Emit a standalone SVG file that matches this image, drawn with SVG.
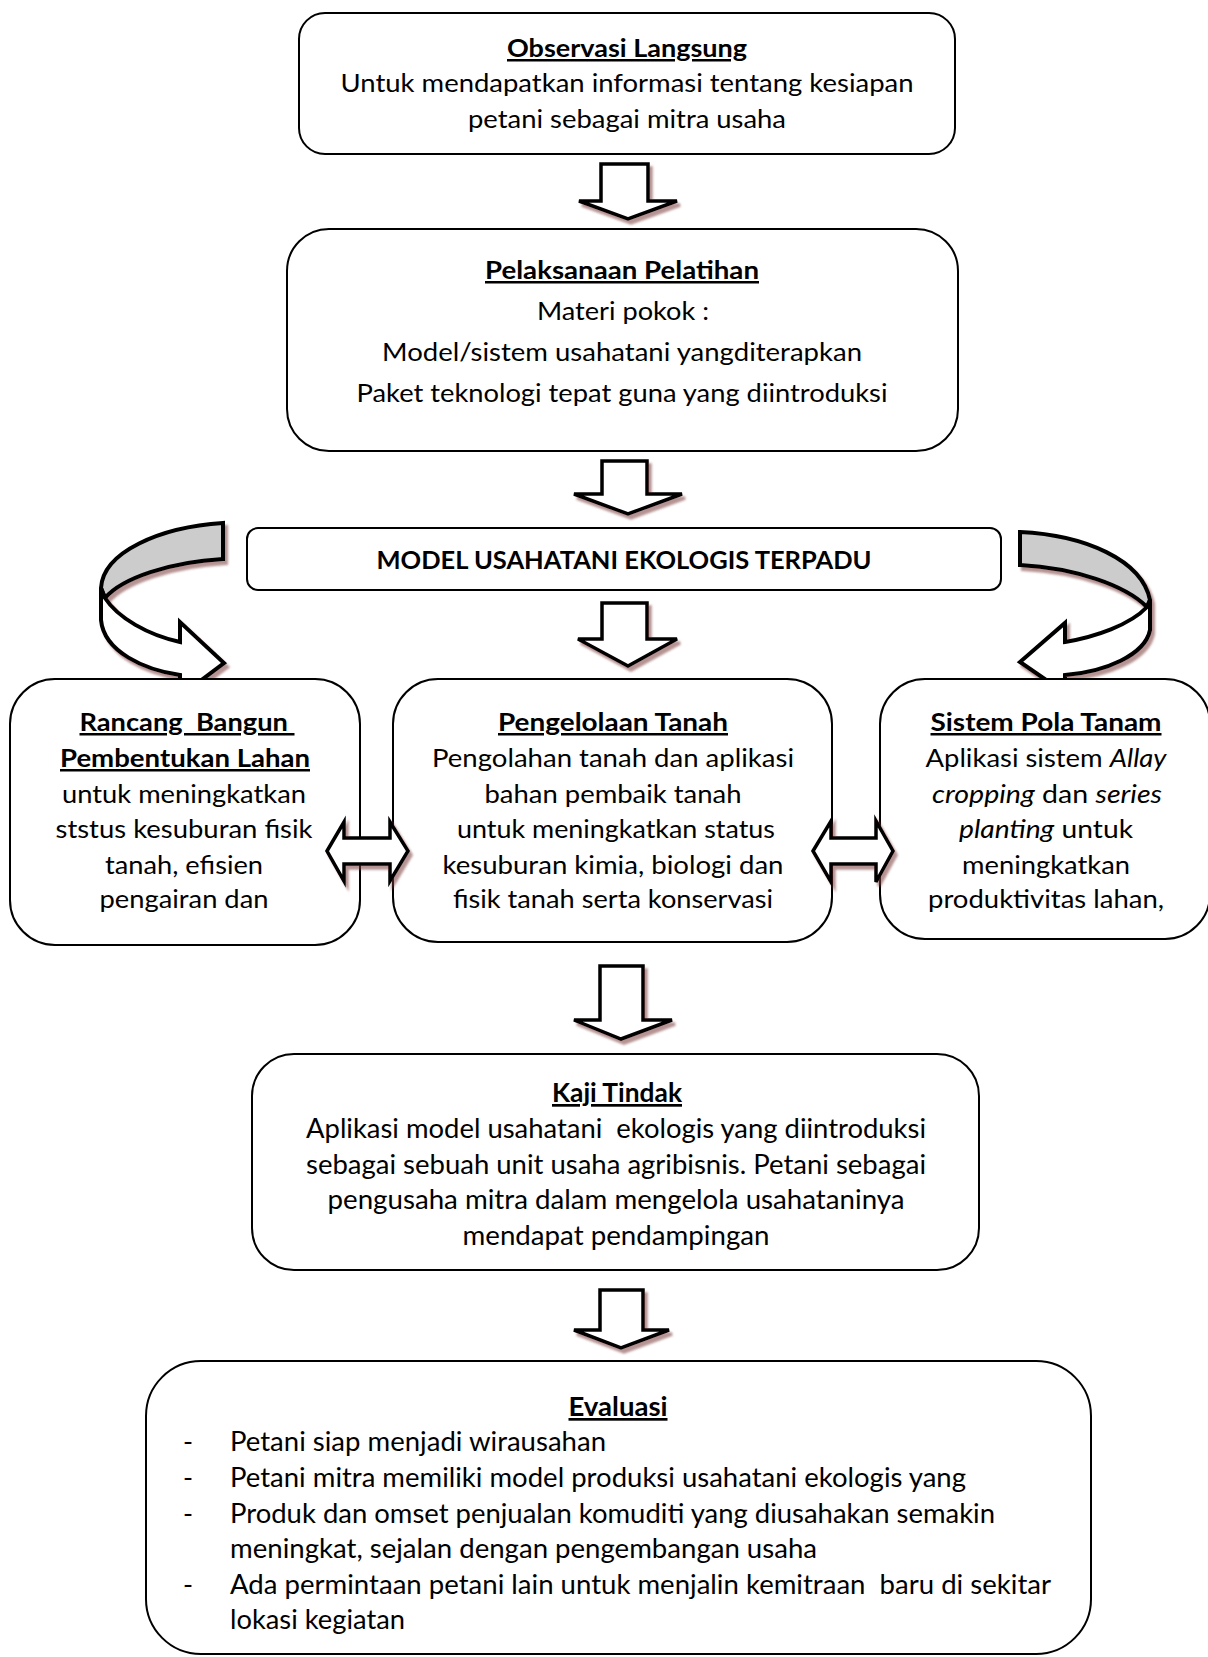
<svg xmlns="http://www.w3.org/2000/svg" width="1208" height="1657" viewBox="0 0 1208 1657">
<style>
.box{fill:#fff;stroke:#000;stroke-width:2}
.t{font-family:Lato,'Open Sans',sans-serif;font-size:25px;fill:#000}
.n{font-size:27px}
.c{text-anchor:middle}
.b{font-weight:bold}
.u{text-decoration:underline}
.i{font-style:italic}
.blk{fill:#fff;stroke:#000;stroke-width:3.5;stroke-linejoin:miter}
.cv{stroke:#000;stroke-width:4;stroke-linejoin:miter}
</style>
<defs>
<filter id="sh" x="-20%" y="-20%" width="150%" height="150%">
<feDropShadow dx="3" dy="4" stdDeviation="1.2" flood-color="#7a3a3a" flood-opacity="0.55"/>
</filter>
</defs>

<g id="connectors">
<g filter="url(#sh)">
<path class="blk" d="M601,164 L648,164 L648,201 L677,201 L628,219 L579,201 L601,201 Z"/>
<path class="blk" d="M602,461 L647,461 L647,494 L682,494 L628,514 L574,494 L602,494 Z"/>
<path class="blk" d="M602,603 L647,603 L647,639 L677,639 L628,666 L578,639 L602,639 Z"/>
<path class="blk" d="M600,966 L643,966 L643,1020 L672,1020 L621,1039 L574,1020 L600,1020 Z"/>
<path class="blk" d="M600,1290 L643,1290 L643,1330 L669,1330 L621,1348 L574,1330 L600,1330 Z"/>
</g>
<g id="curve-left" filter="url(#sh)">
<path class="cv" fill="#cccccc" d="M223,523 C160,527 103,552 101,588 L105,598 C122,578 170,562 223,559 Z"/>
<path class="cv" fill="#ffffff" d="M101,588 L101,620 C104,652 145,670 180,675 L180,696 L224,663 L180,622 L180,642 C148,635 118,618 105,598 Z"/>
</g>
<g id="curve-right" filter="url(#sh)">
<path class="cv" fill="#cccccc" d="M1020,532 C1085,535 1142,560 1150,600 L1147,607 C1125,585 1075,568 1020,565 Z"/>
<path class="cv" fill="#ffffff" d="M1150,600 L1150,630 C1145,655 1105,672 1065,675 L1065,693 L1020,662 L1065,623 L1065,642 C1095,637 1130,625 1147,607 Z"/>
</g>
</g>

<g id="n-observasi">
<rect class="box" x="299" y="13" width="656" height="141" rx="26"/>
<text class="t c b u" x="627" y="57" textLength="240" lengthAdjust="spacingAndGlyphs">Observasi Langsung</text>
<text class="t c" x="627" y="92" textLength="573" lengthAdjust="spacingAndGlyphs">Untuk mendapatkan informasi tentang kesiapan</text>
<text class="t c" x="627" y="128" textLength="318" lengthAdjust="spacingAndGlyphs">petani sebagai mitra usaha</text>
</g>

<g id="n-pelatihan">
<rect class="box" x="287" y="229" width="671" height="222" rx="42"/>
<text class="t c b u" x="622" y="279" textLength="274" lengthAdjust="spacingAndGlyphs">Pelaksanaan Pelatihan</text>
<text class="t c" x="623" y="320" textLength="172" lengthAdjust="spacingAndGlyphs">Materi pokok :</text>
<text class="t c" x="622" y="361" textLength="480" lengthAdjust="spacingAndGlyphs">Model/sistem usahatani yangditerapkan</text>
<text class="t c" x="622" y="402" textLength="531" lengthAdjust="spacingAndGlyphs">Paket teknologi tepat guna yang diintroduksi</text>
</g>

<g id="n-model">
<rect class="box" x="247" y="528" width="754" height="62" rx="11"/>
<text class="t c b" x="624" y="569" textLength="495" lengthAdjust="spacingAndGlyphs">MODEL USAHATANI EKOLOGIS TERPADU</text>
</g>

<g id="n-rancang">
<rect class="box" x="10" y="679" width="350" height="266" rx="45"/>
<text class="t c b u" x="187" y="731" textLength="215" lengthAdjust="spacingAndGlyphs" xml:space="preserve">Rancang  Bangun </text>
<text class="t c b u" x="185" y="767" textLength="250" lengthAdjust="spacingAndGlyphs">Pembentukan Lahan</text>
<text class="t c" x="184" y="803" textLength="244" lengthAdjust="spacingAndGlyphs">untuk meningkatkan</text>
<text class="t c" x="184" y="838" textLength="257" lengthAdjust="spacingAndGlyphs">ststus kesuburan fisik</text>
<text class="t c" x="184" y="874" textLength="158" lengthAdjust="spacingAndGlyphs">tanah, efisien</text>
<text class="t c" x="184" y="908" textLength="169" lengthAdjust="spacingAndGlyphs">pengairan dan</text>
</g>

<g id="n-pengelolaan">
<rect class="box" x="393" y="679" width="439" height="263" rx="45"/>
<text class="t c b u" x="613" y="731" textLength="230" lengthAdjust="spacingAndGlyphs">Pengelolaan Tanah</text>
<text class="t c" x="613" y="767" textLength="362" lengthAdjust="spacingAndGlyphs">Pengolahan tanah dan aplikasi</text>
<text class="t c" x="613" y="803" textLength="257" lengthAdjust="spacingAndGlyphs">bahan pembaik tanah</text>
<text class="t c" x="616" y="838" textLength="318" lengthAdjust="spacingAndGlyphs">untuk meningkatkan status</text>
<text class="t c" x="613" y="874" textLength="341" lengthAdjust="spacingAndGlyphs">kesuburan kimia, biologi dan</text>
<text class="t c" x="613" y="908" textLength="320" lengthAdjust="spacingAndGlyphs">fisik tanah serta konservasi</text>
</g>

<g id="n-sistem">
<rect class="box" x="880" y="679" width="330" height="260" rx="45"/>
<text class="t c b u" x="1046" y="731" textLength="231" lengthAdjust="spacingAndGlyphs">Sistem Pola Tanam</text>
<text class="t c" x="1046" y="767" textLength="241" lengthAdjust="spacingAndGlyphs">Aplikasi sistem <tspan class="i">Allay</tspan></text>
<text class="t c" x="1047" y="803" textLength="230" lengthAdjust="spacingAndGlyphs"><tspan class="i">cropping</tspan> dan <tspan class="i">series</tspan></text>
<text class="t c" x="1046" y="838" textLength="174" lengthAdjust="spacingAndGlyphs"><tspan class="i">planting</tspan> untuk</text>
<text class="t c" x="1046" y="874" textLength="168" lengthAdjust="spacingAndGlyphs">meningkatkan</text>
<text class="t c" x="1046" y="908" textLength="236" lengthAdjust="spacingAndGlyphs">produktivitas lahan,</text>
</g>

<g id="connectors-double" filter="url(#sh)">
<path class="blk" d="M327,851 L344,822 L344,838 L390,838 L390,822 L408,851 L390,881 L390,864 L344,864 L344,881 Z"/>
<path class="blk" d="M813,851 L831,821 L831,838 L876,838 L876,821 L893,851 L876,882 L876,864 L831,864 L831,882 Z"/>
</g>

<g id="n-kaji">
<rect class="box" x="252" y="1054" width="727" height="216" rx="42"/>
<text class="t n c b u" x="617" y="1102" textLength="130" lengthAdjust="spacingAndGlyphs">Kaji Tindak</text>
<text class="t n c" x="616" y="1138" textLength="620" lengthAdjust="spacingAndGlyphs" xml:space="preserve">Aplikasi model usahatani  ekologis yang diintroduksi</text>
<text class="t n c" x="616" y="1174" textLength="620" lengthAdjust="spacingAndGlyphs">sebagai sebuah unit usaha agribisnis. Petani sebagai</text>
<text class="t n c" x="616" y="1209" textLength="577" lengthAdjust="spacingAndGlyphs">pengusaha mitra dalam mengelola usahataninya</text>
<text class="t n c" x="616" y="1245" textLength="307" lengthAdjust="spacingAndGlyphs">mendapat pendampingan</text>
</g>

<g id="n-evaluasi">
<rect class="box" x="146" y="1361" width="945" height="293" rx="55"/>
<text class="t n c b u" x="618" y="1416" textLength="99" lengthAdjust="spacingAndGlyphs">Evaluasi</text>
<text class="t n" x="183" y="1451">-</text>
<text class="t n" x="230" y="1451" textLength="376" lengthAdjust="spacingAndGlyphs">Petani siap menjadi wirausahan</text>
<text class="t n" x="183" y="1487">-</text>
<text class="t n" x="230" y="1487" textLength="736" lengthAdjust="spacingAndGlyphs">Petani mitra memiliki model produksi usahatani ekologis yang</text>
<text class="t n" x="183" y="1523">-</text>
<text class="t n" x="230" y="1523" textLength="765" lengthAdjust="spacingAndGlyphs">Produk dan omset penjualan komuditi yang diusahakan semakin</text>
<text class="t n" x="230" y="1558" textLength="587" lengthAdjust="spacingAndGlyphs">meningkat, sejalan dengan pengembangan usaha</text>
<text class="t n" x="183" y="1594">-</text>
<text class="t n" x="230" y="1594" textLength="821" lengthAdjust="spacingAndGlyphs" xml:space="preserve">Ada permintaan petani lain untuk menjalin kemitraan  baru di sekitar</text>
<text class="t n" x="230" y="1629" textLength="175" lengthAdjust="spacingAndGlyphs">lokasi kegiatan</text>
</g>
</svg>
